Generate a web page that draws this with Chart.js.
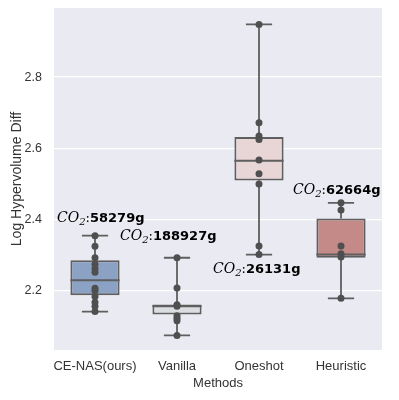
<!DOCTYPE html>
<html>
<head>
<meta charset="utf-8">
<script src="https://cdn.jsdelivr.net/npm/chart.js@4"></script>
<style>
	html, body { margin: 0; padding: 0; background: #ffffff; }
	#wrap { width: 399px; height: 400px; }
</style>
</head>
<body>
<div id="wrap"><canvas id="boxChart" width="399" height="400"></canvas></div>
<script>
// Methods and box statistics
const methods = ["CE-NAS(ours)", "Vanilla", "Oneshot", "Heuristic"];
const whiskerLow = [2.142, 2.075, 2.302, 2.179];
const q1 = [2.188, 2.134, 2.510, 2.293];
const median = [2.230, 2.157, 2.565, 2.302];
const q3 = [2.286, 2.162, 2.632, 2.403];
const whiskerHigh = [2.355, 2.293, 2.948, 2.447];

// Individual runs (dots)
const pointsCENAS = [2.355, 2.325, 2.293, 2.275, 2.262, 2.252, 2.207, 2.200, 2.184, 2.168, 2.157, 2.142];
const pointsVanilla = [2.293, 2.208, 2.161, 2.157, 2.130, 2.123, 2.116, 2.075];
const pointsOneshot = [2.948, 2.672, 2.635, 2.625, 2.567, 2.529, 2.500, 2.326, 2.302];
const pointsHeuristic = [2.447, 2.427, 2.326, 2.304, 2.295, 2.179];
const allPoints = [pointsCENAS, pointsVanilla, pointsOneshot, pointsHeuristic];

// Carbon labels
const co2Labels = ["58279g", "188927g", "26131g", "62664g"];

const tickValues = [2.2, 2.4, 2.6, 2.8];

// Box fill colours (seaborn, desaturated)
const boxColors = ["#8ba2c4", "#dcdde1", "#e8d5d5", "#c38a88"];
const lineColor = "#5f5f5f";

// Where each CO2 label sits (x in category units, y in data units, left/baseline)
const labelAnchors = [
	{ x: -0.463, y: 2.393 },
	{ x: 0.305, y: 2.342 },
	{ x: 1.439, y: 2.250 },
	{ x: 2.415, y: 2.473 },
];

// Build whisker / cap / median segments, gaps with y: null
const whiskerData = [];
const capData = [];
const medianData = [];
methods.forEach((m, i) => {
	whiskerData.push({ x: i, y: q3[i] }, { x: i, y: whiskerHigh[i] }, { x: i, y: null });
	whiskerData.push({ x: i, y: q1[i] }, { x: i, y: whiskerLow[i] }, { x: i, y: null });
	capData.push({ x: i - 0.16, y: whiskerHigh[i] }, { x: i + 0.16, y: whiskerHigh[i] }, { x: i, y: null });
	capData.push({ x: i - 0.16, y: whiskerLow[i] }, { x: i + 0.16, y: whiskerLow[i] }, { x: i, y: null });
	medianData.push({ x: i - 0.3, y: median[i] }, { x: i + 0.3, y: median[i] }, { x: i, y: null });
});

const dotData = [];
allPoints.forEach((list, i) => {
	list.forEach((v) => dotData.push({ x: i, y: v }));
});

// Plot background
const plotBackground = {
	id: "plotBackground",
	beforeDraw(chart) {
		const { ctx, chartArea } = chart;
		ctx.save();
		ctx.fillStyle = "#eaeaf2";
		ctx.fillRect(chartArea.left, chartArea.top, chartArea.right - chartArea.left, chartArea.bottom - chartArea.top);
		ctx.restore();
	},
};

// CO2 annotations: italic CO, subscript 2, then bold amount
const co2Annotations = {
	id: "co2Annotations",
	afterDatasetsDraw(chart) {
		const { ctx } = chart;
		const xs = chart.scales.xl;
		const ys = chart.scales.y;
		ctx.save();
		ctx.fillStyle = "#000000";
		ctx.textBaseline = "alphabetic";
		ctx.textAlign = "left";
		co2Labels.forEach((text, i) => {
			let px = xs.getPixelForValue(labelAnchors[i].x);
			const py = ys.getPixelForValue(labelAnchors[i].y);
			ctx.font = 'italic 14px "DejaVu Serif"';
			ctx.fillText("CO", px, py);
			px += ctx.measureText("CO").width;
			ctx.font = 'italic 10px "DejaVu Serif"';
			ctx.fillText("2", px, py + 3);
			px += ctx.measureText("2").width;
			ctx.font = '13px "DejaVu Serif"';
			ctx.fillText(":", px, py);
			px += ctx.measureText(":").width;
			ctx.font = 'bold 13px "DejaVu Sans"';
			ctx.fillText(text, px, py);
		});
		ctx.restore();
	},
};

new Chart(document.getElementById("boxChart"), {
	type: "bar",
	data: {
		labels: methods,
		datasets: [
			{
				label: "points",
				type: "scatter",
				xAxisID: "xl",
				data: dotData,
				pointRadius: 3.5,
				pointBackgroundColor: "#4f4f4f",
				pointBorderColor: "#4f4f4f",
				pointBorderWidth: 0,
				order: 0,
			},
			{
				label: "median",
				type: "line",
				xAxisID: "xl",
				data: medianData,
				borderColor: lineColor,
				borderWidth: 2,
				pointRadius: 0,
				spanGaps: false,
				order: 1,
			},
			{
				label: "box",
				xAxisID: "x",
				data: methods.map((m, i) => [q1[i], q3[i]]),
				backgroundColor: boxColors,
				borderColor: lineColor,
				borderWidth: 2,
				borderSkipped: false,
				grouped: false,
				barPercentage: 0.6,
				categoryPercentage: 1.0,
				order: 2,
			},
			{
				label: "whiskers",
				type: "line",
				xAxisID: "xl",
				data: whiskerData,
				borderColor: lineColor,
				borderWidth: 1.8,
				pointRadius: 0,
				spanGaps: false,
				order: 3,
			},
			{
				label: "caps",
				type: "line",
				xAxisID: "xl",
				data: capData,
				borderColor: lineColor,
				borderWidth: 1.8,
				pointRadius: 0,
				spanGaps: false,
				order: 3,
			},
		],
	},
	options: {
		responsive: false,
		animation: false,
		layout: {
			padding: { top: 8, right: 17, left: 0, bottom: 0 },
		},
		plugins: {
			legend: { display: false },
			tooltip: { enabled: false },
		},
		scales: {
			x: {
				type: "category",
				offset: true,
				grid: { display: false, drawTicks: false },
				border: { display: false },
				ticks: {
					padding: 9,
					maxRotation: 0,
					minRotation: 0,
					autoSkip: false,
					color: "#333333",
					font: { size: 13, family: "'Liberation Sans', Arial, sans-serif" },
				},
				title: {
					display: true,
					text: "Methods",
					color: "#333333",
					padding: { top: 0, bottom: 9 },
					font: { size: 13, family: "'Liberation Sans', Arial, sans-serif" },
				},
				afterFit(scale) {
					scale.height = 50;
					scale.paddingLeft = 0;
					scale.paddingRight = 0;
				},
			},
			xl: {
				type: "linear",
				display: false,
				offset: false,
				min: -0.5,
				max: 3.5,
			},
			y: {
				min: 2.034,
				max: 2.994,
				grid: { color: "#ffffff", lineWidth: 1.3, drawTicks: false },
				border: { display: false },
				afterBuildTicks(scale) {
					scale.ticks = tickValues.map((v) => ({ value: v }));
				},
				ticks: {
					padding: 12,
					color: "#333333",
					font: { size: 12.5, family: "'Liberation Sans', Arial, sans-serif" },
					callback: (v) => v.toFixed(1),
				},
				title: {
					display: true,
					text: "Log Hypervolume Diff",
					color: "#333333",
					padding: { top: 9, bottom: 0 },
					font: { size: 14, family: "'Liberation Sans', Arial, sans-serif" },
				},
				afterFit(scale) {
					scale.width = 54;
					scale.paddingTop = 0;
					scale.paddingBottom = 0;
				},
			},
		},
	},
	plugins: [plotBackground, co2Annotations],
});
</script>
</body>
</html>
